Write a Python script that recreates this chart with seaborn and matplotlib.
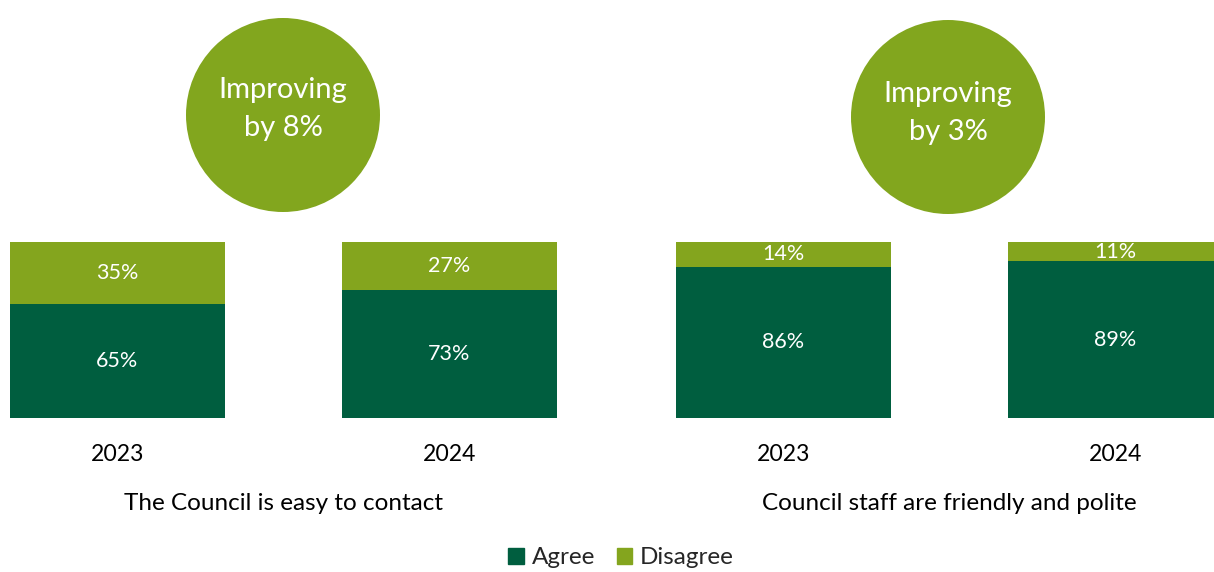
import matplotlib
matplotlib.use("Agg")
import matplotlib.pyplot as plt
from matplotlib.patches import Circle, Patch
import seaborn as sns
import pandas as pd

sns.set_theme(style="white")
plt.rcParams["font.family"] = ["Lato", "DejaVu Sans"]

# Survey results
years = ["2023", "2024"]
contact_agree = [65, 73]
contact_disagree = [35, 27]
staff_agree = [86, 89]
staff_disagree = [14, 11]
panel_titles = ["The Council is easy to contact", "Council staff are friendly and polite"]
badges = ["Improving\nby 8%", "Improving\nby 3%"]

DARK = "#005E3F"
LIGHT = "#84A51E"
W, H = 1214, 572

fig = plt.figure(figsize=(W / 100, H / 100), dpi=100)


def px_axes(left, bottom, width, height):
    return fig.add_axes([left / W, 1 - (bottom) / H, width / W, height / H])


def draw_panel(ax, agree, disagree, title):
    df = pd.DataFrame({"year": years, "agree": agree,
                       "total": [a + d for a, d in zip(agree, disagree)]})
    sns.barplot(data=df, x="year", y="total", color=LIGHT, width=0.647,
                saturation=1, ax=ax, linewidth=0)
    sns.barplot(data=df, x="year", y="agree", color=DARK, width=0.647,
                saturation=1, ax=ax, linewidth=0)
    ax.set_xlim(-0.3235, 1.3235)
    ax.set_ylim(0, 100)
    for i, (a, d) in enumerate(zip(agree, disagree)):
        ax.text(i, a / 2, f"{a}%", ha="center", va="center", color="white", fontsize=15.5)
        ax.text(i, a + d / 2, f"{d}%", ha="center", va="center", color="white", fontsize=15.5)
    ax.set_xlabel("")
    ax.set_ylabel("")
    ax.set_yticks([])
    ax.tick_params(axis="x", length=0, labelsize=16.6, pad=19, colors="black")
    for s in ax.spines.values():
        s.set_visible(False)
    ax.text(0.5, -0.485, title, transform=ax.transAxes, ha="center", va="center",
            fontsize=17.5, color="black")


ax1 = px_axes(10, 418, 547, 176)
draw_panel(ax1, contact_agree, contact_disagree, panel_titles[0])
ax2 = px_axes(676, 418, 547, 176)
draw_panel(ax2, staff_agree, staff_disagree, panel_titles[1])

# Badge overlay in pixel coordinates
ov = fig.add_axes([0, 0, 1, 1], facecolor="none")
ov.set_xlim(0, W)
ov.set_ylim(H, 0)
ov.axis("off")
for (cx, cy, dy), label in zip([(283, 115, -6), (948, 117, -4)], badges):
    ov.add_patch(Circle((cx, cy), 97, color="#82A61E", lw=0))
    ov.text(cx, cy + dy, label, ha="center", va="center", color="white",
            fontsize=21, linespacing=1.6)

handles = [Patch(color=DARK, label="Agree"), Patch(color=LIGHT, label="Disagree")]
fig.legend(handles=handles, loc="center", bbox_to_anchor=(621 / W, 1 - 558 / H), ncol=2,
           frameon=False, fontsize=17.5, handlelength=0.65, handleheight=0.65,
           handletextpad=0.3, columnspacing=0.9)

fig.savefig("out.png", dpi=100, facecolor="white")
